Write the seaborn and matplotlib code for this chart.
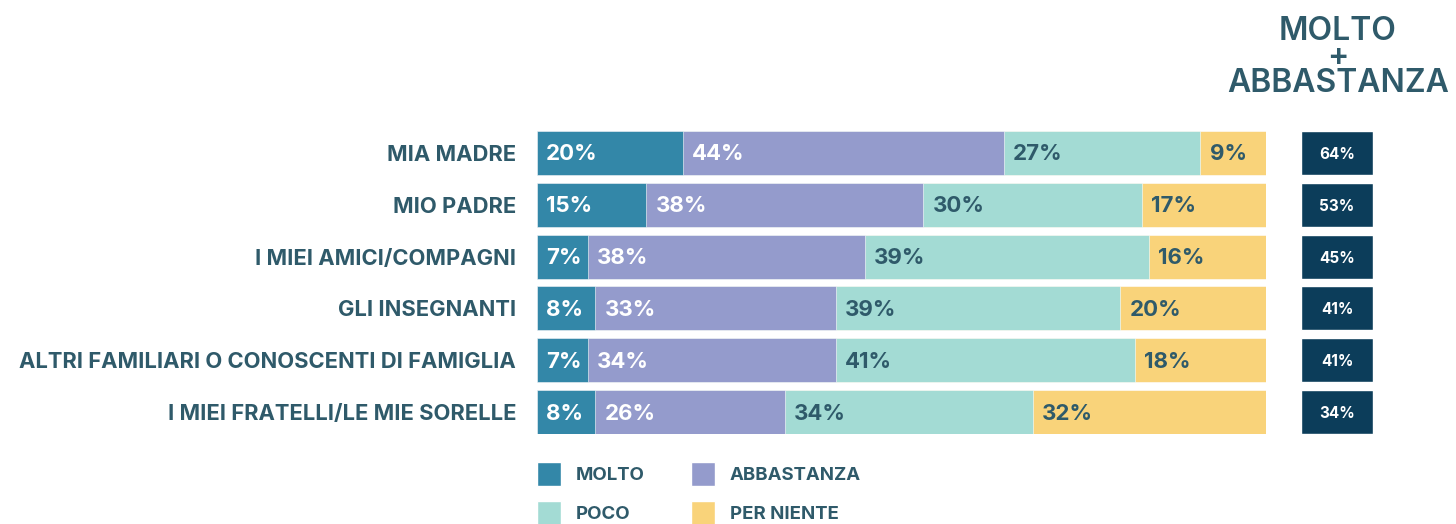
import numpy as np
import pandas as pd
import matplotlib
matplotlib.use("Agg")
import matplotlib.pyplot as plt
from matplotlib.patches import Patch
import seaborn as sns

# ======================
# Dati
# ======================
categories = [
    "MIA MADRE",
    "MIO PADRE",
    "I MIEI AMICI/COMPAGNI",
    "GLI INSEGNANTI",
    "ALTRI FAMILIARI O CONOSCENTI DI FAMIGLIA",
    "I MIEI FRATELLI/LE MIE SORELLE",
]
molto = [20, 15, 7, 8, 7, 8]
abbastanza = [44, 38, 38, 33, 34, 26]
poco = [27, 30, 39, 39, 41, 34]
per_niente = [9, 17, 16, 20, 18, 32]

series_names = ["MOLTO", "ABBASTANZA", "POCO", "PER NIENTE"]
colors = ["#3387a8", "#949bcc", "#a3dbd4", "#f9d37a"]
label_colors = ["white", "white", "#2f5a6a", "#2f5a6a"]
TEXT = "#2f5a6a"
NAVY = "#0c3d5a"

df = pd.DataFrame({
    "cat": categories,
    "MOLTO": molto,
    "ABBASTANZA": abbastanza,
    "POCO": poco,
    "PER NIENTE": per_niente,
})
cum = df[series_names].cumsum(axis=1)
cum["cat"] = df["cat"]
df["TOT"] = df["MOLTO"] + df["ABBASTANZA"]

sns.set_theme(style="white")
plt.rcParams["font.family"] = ["Inter", "DejaVu Sans"]

W, H = 1456, 524
fig = plt.figure(figsize=(W / 100, H / 100), dpi=100)

def fx(px):
    return px / W

def fy(px):
    return 1 - px / H

# ======================
# Barre impilate
# ======================
ax = fig.add_axes([fx(537), fy(434), fx(1266) - fx(537), fy(131) - fy(434)])
bar_h = 44 / 52
# si disegnano le somme cumulate dalla piu' lunga alla piu' corta
for i in reversed(range(len(series_names))):
    sns.barplot(data=cum, x=series_names[i], y="cat", orient="h",
                color=colors[i], saturation=1, width=bar_h, ax=ax,
                edgecolor="white", linewidth=0.4)

for r in range(len(categories)):
    left = 0
    for i, name in enumerate(series_names):
        v = df.loc[r, name]
        ax.text(left + 1.25, r + 0.03, f"{v}%", ha="left", va="center",
                color=label_colors[i], fontsize=16, fontweight="bold")
        left += v

ax.set_xlim(0, 100)
ax.set_ylim(len(categories) - 1 + bar_h / 2, -bar_h / 2)
ax.set_xlabel("")
ax.set_ylabel("")
ax.set_xticks([])
ax.tick_params(axis="y", length=0, pad=15)
ax.set_yticks(range(len(categories)))
ax.set_yticklabels(categories, fontsize=15.8, fontweight="bold", color=TEXT)
sns.despine(ax=ax, left=True, bottom=True)

# ======================
# Totale molto + abbastanza
# ======================
ax2 = fig.add_axes([fx(1301), fy(434), fx(1373) - fx(1301), fy(131) - fy(434)])
sns.barplot(data=df.assign(full=1), x="full", y="cat", orient="h", color=NAVY,
            saturation=1, width=bar_h, ax=ax2)
for r, v in enumerate(df["TOT"]):
    ax2.text(0.5, r + 0.03, f"{v}%", ha="center", va="center", color="white",
             fontsize=11, fontweight="bold")
ax2.set_xlim(0, 1)
ax2.set_ylim(len(categories) - 1 + bar_h / 2, -bar_h / 2)
ax2.axis("off")

fig.text(fx(1338), fy(92), "MOLTO\n+\nABBASTANZA", ha="center", va="baseline",
         multialignment="center", fontsize=23, fontweight="semibold",
         color=TEXT, linespacing=0.8)

# ======================
# Legenda
# ======================
handles = [Patch(facecolor=colors[i], label=series_names[i]) for i in [0, 2, 1, 3]]
leg = fig.legend(handles=handles, ncol=2, loc="upper left",
                 bbox_to_anchor=(fx(537), fy(462)), frameon=False,
                 fontsize=13.4, handlelength=1.29, handleheight=1.61,
                 handletextpad=0.81, columnspacing=2.45, labelspacing=0.81,
                 borderpad=0, borderaxespad=0)
for t in leg.get_texts():
    t.set_color(TEXT)
    t.set_fontweight("bold")

fig.savefig("out.png", dpi=100)
